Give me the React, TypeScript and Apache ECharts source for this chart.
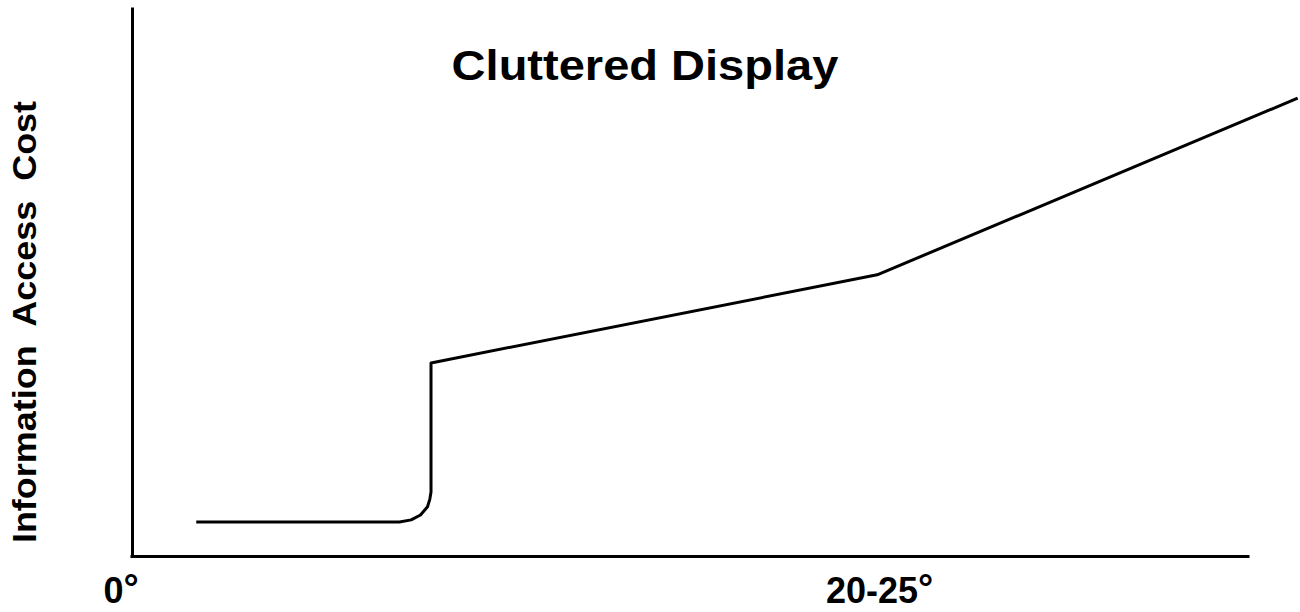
import React, { useEffect, useRef } from "react";
import * as echarts from "echarts";

// Clutter level (arbitrary horizontal units, 0–100) and information access cost (0–100)
const clutterLevel = [5.5, 22.9, 23.9, 24.7, 25.3, 25.5, 25.6, 25.6, 63.8, 99.8];
const accessCost = [6.2, 6.2, 6.6, 7.5, 9.0, 10.4, 11.7, 35.3, 51.4, 83.7];

const xTickValues = [0, 64];
const xTickLabels = ["0", "20-25"];

const titleText = "Cluttered Display";
const yAxisTitle = "Information  Access  Cost";

const FONT = "'Liberation Sans', Arial, Helvetica, sans-serif";

export default function App() {
  const ref = useRef<HTMLDivElement>(null);

  useEffect(() => {
    if (!ref.current) return;
    const chart = echarts.init(ref.current, undefined, { renderer: "svg" });

    const axisLineStyle = { color: "#000", width: 3, cap: "square" as const };
    const degStyle = {
      fontFamily: FONT,
      fontWeight: "bold",
      fontSize: 38,
      lineHeight: 34,
      color: "#000",
    };

    chart.setOption({
      animation: false,
      backgroundColor: "#fff",
      grid: [
        { left: 132, right: 52, top: 9, bottom: 56 },
        { left: 132, right: 0, top: 9, bottom: 56 },
      ],
      xAxis: [
        {
          gridIndex: 0,
          type: "value",
          min: 0,
          max: 100,
          axisLine: { show: true, onZero: false, lineStyle: axisLineStyle },
          axisTick: { show: false },
          axisLabel: { show: false },
          splitLine: { show: false },
        },
        {
          gridIndex: 1,
          type: "value",
          min: 0,
          max: 100,
          axisLine: { show: false },
          axisTick: { show: false },
          splitLine: { show: false },
          axisLabel: {
            show: true,
            customValues: xTickValues,
            margin: 15,
            color: "#000",
            formatter: (val: number) => {
              const i = xTickValues.indexOf(val);
              if (i < 0) return "";
              return i === 0
                ? `{d|${xTickLabels[i]}}{s0|°}`
                : `{d|${xTickLabels[i]}}{s|°}`;
            },
            rich: {
              d: { fontFamily: FONT, fontWeight: "bold", fontSize: 36, lineHeight: 38, color: "#000" },
              s: { ...degStyle, padding: [0, 0, 4, 0] },
              s0: { ...degStyle, padding: [0, 22, 4, 0] },
            },
          },
        },
      ],
      yAxis: [
        {
          gridIndex: 0,
          type: "value",
          min: 0,
          max: 100,
          axisLine: { show: true, onZero: false, lineStyle: axisLineStyle },
          axisTick: { show: false },
          axisLabel: { show: false },
          splitLine: { show: false },
        },
        {
          gridIndex: 1,
          type: "value",
          min: 0,
          max: 100,
          show: false,
          splitLine: { show: false },
        },
      ],
      graphic: [
        {
          type: "text",
          x: 645,
          y: 65,
          scaleX: 1.12,
          style: {
            text: titleText,
            align: "center",
            verticalAlign: "middle",
            fontFamily: FONT,
            fontWeight: "bold",
            fontSize: 42,
            fill: "#000",
          },
        },
        {
          type: "text",
          x: 25,
          y: 322,
          rotation: Math.PI / 2,
          scaleX: 1.09,
          style: {
            text: yAxisTitle,
            align: "center",
            verticalAlign: "middle",
            fontFamily: FONT,
            fontWeight: "bold",
            fontSize: 33,
            fill: "#000",
          },
        },
      ],
      series: [
        {
          type: "line",
          xAxisIndex: 1,
          yAxisIndex: 1,
          data: clutterLevel.map((x, i) => [x, accessCost[i]]),
          showSymbol: false,
          symbol: "none",
          lineStyle: { color: "#000", width: 3, join: "round" },
          silent: true,
          clip: false,
        },
      ],
    });

    return () => chart.dispose();
  }, []);

  return (
    <div
      ref={ref}
      style={{ position: "fixed", left: 0, top: 0, width: 1300, height: 612 }}
    />
  );
}
